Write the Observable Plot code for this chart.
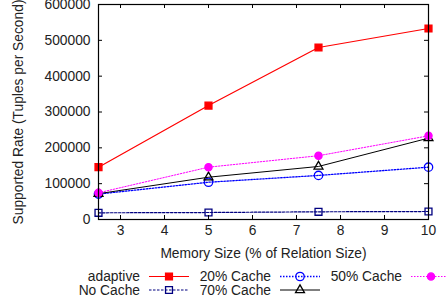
<!DOCTYPE html>
<html><head><meta charset="utf-8">
<script src="https://cdn.jsdelivr.net/npm/d3@7"></script>
<script src="https://cdn.jsdelivr.net/npm/@observablehq/plot@0.6"></script>
<style>body{margin:0;background:#fff}#chart{width:446px;height:304px}</style>
</head><body><div id="chart"></div>
<script>
const memory = [2.5, 5, 7.5, 10];
const adaptive = [146000, 318000, 480000, 533000];
const cache20 = [71000, 104000, 123000, 146000];
const cache50 = [74500, 146000, 178000, 233500];
const noCache = [18700, 19500, 21500, 22300];
const cache70 = [72000, 118000, 148000, 227000];
const xTicks = [3, 4, 5, 6, 7, 8, 9, 10];
const yTicks = [0, 100000, 200000, 300000, 400000, 500000, 600000];
const seriesNames = ["adaptive", "20% Cache", "50% Cache", "No Cache", "70% Cache"];

const W = 446, H = 304, mL = 98, mR = 18, mT = 4, mB = 85;
const fw = W - mL - mR, fh = H - mT - mB;
const FONT = "'Liberation Sans', Arial, sans-serif";
const FS = 13.8;

const styles = {
  "adaptive":  {vals: adaptive, stroke: "#ff0000", dash: null, sw: 1.2, symbol: "square", fill: "#ff0000", r: 3.9},
  "20% Cache": {vals: cache20, stroke: "#0000ff", dash: "1.5,1.5", sw: 1.3, symbol: "circle", fill: "none", r: 4.2},
  "50% Cache": {vals: cache50, stroke: "#ff00ff", dash: "1.5,1.5", sw: 1, symbol: "circle", fill: "#ff00ff", r: 3.6},
  "No Cache":  {vals: noCache, stroke: "#000080", dash: "2.5,1.5", sw: 1.2, symbol: "square", fill: "none", r: 3.9},
  "70% Cache": {vals: cache70, stroke: "#000000", dash: null, sw: 1, symbol: "triangle", fill: "none", r: 3.3}
};
const drawOrder = ["adaptive", "No Cache", "20% Cache", "70% Cache", "50% Cache"];

const marks = [];
for (const name of drawOrder) {
  const s = styles[name];
  const data = memory.map((m, i) => ({x: m, y: s.vals[i]}));
  marks.push(Plot.line(data, {x: "x", y: "y", stroke: s.stroke, strokeWidth: s.sw, strokeDasharray: s.dash}));
  marks.push(Plot.dot(data, {x: "x", y: "y", symbol: () => s.symbol, r: s.r, fill: s.fill, stroke: s.stroke, strokeWidth: 1.3}));
}
marks.push(
  Plot.tickX(xTicks, {x: d => d, insetTop: fh - 4, stroke: "black"}),
  Plot.tickX(xTicks, {x: d => d, insetBottom: fh - 4, stroke: "black"}),
  Plot.tickY(yTicks, {y: d => d, insetRight: fw - 4, stroke: "black"}),
  Plot.tickY(yTicks, {y: d => d, insetLeft: fw - 4, stroke: "black"}),
  Plot.frame({stroke: "black", strokeWidth: 1.2}),
  Plot.axisX({ticks: xTicks, tickSize: 0, tickPadding: 6, label: null, tickFormat: d => String(d)}),
  Plot.axisY({ticks: yTicks, tickSize: 0, tickPadding: 8, label: null, tickFormat: d => String(d)}),
  Plot.text(["Supported Rate (Tuples per Second)"], {frameAnchor: "left", dx: -80, rotate: -90, textAnchor: "middle", lineAnchor: "middle", fontSize: FS}),
  Plot.text(["Memory Size (% of Relation Size)"], {frameAnchor: "bottom", dy: 34, textAnchor: "middle", lineAnchor: "middle", fontSize: FS})
);

const chart = Plot.plot({
  width: W, height: H,
  marginLeft: mL, marginRight: mR, marginTop: mT, marginBottom: mB,
  x: {domain: [2.5, 10]},
  y: {domain: [0, 600000]},
  style: {fontFamily: FONT, fontSize: FS + "px", color: "#222", background: "white"},
  marks
});

// gnuplot-style legend below the frame
const svg = d3.select(chart);
const leg = svg.append("g").attr("font-family", FONT).attr("font-size", FS).attr("fill", "#222");
const colRight = [140, 271, 402], rowY = [276.5, 290];
seriesNames.forEach((name, i) => {
  const s = styles[name];
  const col = i % 3, row = Math.floor(i / 3);
  const xr = colRight[col], y = rowY[row];
  leg.append("text").attr("x", xr).attr("y", y).attr("text-anchor", "end").attr("dy", "0.35em").text(name);
  leg.append("line").attr("x1", xr + 9).attr("x2", xr + 49).attr("y1", y).attr("y2", y)
    .attr("stroke", s.stroke).attr("stroke-width", s.sw).attr("stroke-dasharray", s.dash);
  const sym = {square: d3.symbolSquare, circle: d3.symbolCircle, triangle: d3.symbolTriangle}[s.symbol];
  leg.append("path").attr("d", d3.symbol(sym, s.r * s.r * Math.PI)())
    .attr("transform", `translate(${xr + 29},${y})`)
    .attr("fill", s.fill).attr("stroke", s.stroke).attr("stroke-width", 1.3);
});

document.getElementById("chart").appendChild(chart);
</script>
</body></html>
